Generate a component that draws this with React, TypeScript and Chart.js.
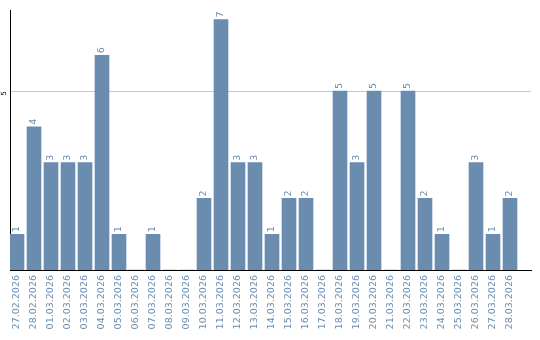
import React, { useEffect, useRef } from "react";
import { Chart, registerables } from "chart.js";

Chart.register(...registerables);

const dates = [
  "27.02.2026", "28.02.2026", "01.03.2026", "02.03.2026", "03.03.2026", "04.03.2026",
  "05.03.2026", "06.03.2026", "07.03.2026", "08.03.2026", "09.03.2026", "10.03.2026",
  "11.03.2026", "12.03.2026", "13.03.2026", "14.03.2026", "15.03.2026", "16.03.2026",
  "17.03.2026", "18.03.2026", "19.03.2026", "20.03.2026", "21.03.2026", "22.03.2026",
  "23.03.2026", "24.03.2026", "25.03.2026", "26.03.2026", "27.03.2026", "28.03.2026",
];
const counts = [1, 4, 3, 3, 3, 6, 1, 0, 1, 0, 0, 2, 7, 3, 3, 1, 2, 2, 0, 5, 3, 5, 0, 5, 2, 1, 0, 3, 1, 2];
const yTickValues = [5];

const BAR_COLOR = "#6a8caf";
const TEXT_COLOR = "#6a8caf";
const FONT = "DejaVu Sans";

const valueLabels = {
  id: "valueLabels",
  afterDatasetsDraw(chart: any) {
    const ctx = chart.ctx;
    const meta = chart.getDatasetMeta(0);
    ctx.save();
    ctx.fillStyle = TEXT_COLOR;
    ctx.font = `9.5px "${FONT}"`;
    ctx.textAlign = "left";
    ctx.textBaseline = "middle";
    meta.data.forEach((el: any, i: number) => {
      const v = counts[i];
      if (!v) return;
      ctx.save();
      ctx.translate(el.x, el.y - 2);
      ctx.rotate(-Math.PI / 2);
      ctx.fillText(String(v), 0, 0);
      ctx.restore();
    });
    ctx.restore();
  },
};

export default function App() {
  const ref = useRef<HTMLCanvasElement | null>(null);
  useEffect(() => {
    document.body.style.margin = "0";
    const pitch = 17;
    const areaWidth = 521;
    const xMin = -7 / pitch;
    const xMax = areaWidth / pitch + xMin;
    const chart = new Chart(ref.current as HTMLCanvasElement, {
      type: "bar",
      data: {
        datasets: [
          {
            data: counts.map((v, i) => ({ x: i, y: v })),
            backgroundColor: BAR_COLOR,
            barThickness: 14,
          },
        ],
      },
      plugins: [valueLabels],
      options: {
        animation: false,
        responsive: false,
        layout: { padding: { top: 10, right: 9, left: 0, bottom: 0 } },
        plugins: { legend: { display: false }, tooltip: { enabled: false } },
        scales: {
          x: {
            type: "linear",
            offset: false,
            min: xMin,
            max: xMax,
            grid: { display: false, drawTicks: false, offset: false },
            border: { display: true, color: "#000000", width: 1 },
            afterBuildTicks: (scale: any) => {
              scale.ticks = dates.map((_, i) => ({ value: i }));
            },
            afterFit: (scale: any) => {
              scale.height = 70;
            },
            ticks: {
              autoSkip: false,
              minRotation: 90,
              maxRotation: 90,
              padding: 5,
              color: TEXT_COLOR,
              font: { family: FONT, size: 9.5 },
              callback: (v: any) => dates[v] ?? "",
            },
          },
          y: {
            min: 0,
            max: 7.26,
            grid: { color: "#c8c8c8", drawTicks: false, lineWidth: 1 },
            border: { display: true, color: "#000000", width: 1 },
            afterBuildTicks: (scale: any) => {
              scale.ticks = yTickValues.map((v) => ({ value: v }));
            },
            afterFit: (scale: any) => {
              scale.width = 10;
            },
            ticks: {
              minRotation: 90,
              maxRotation: 90,
              padding: 6,
              color: "#000000",
              font: { family: FONT, size: 7 },
            },
          },
        },
      },
    } as any);
    return () => chart.destroy();
  }, []);
  return (
    <div style={{ width: 540, height: 340 }}>
      <canvas ref={ref} width={540} height={340} style={{ display: "block" }} />
    </div>
  );
}
